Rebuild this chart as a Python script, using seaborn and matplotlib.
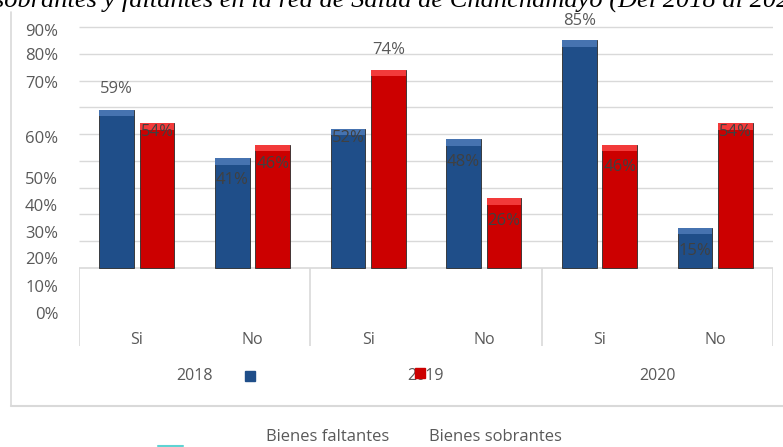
import numpy as np
import pandas as pd
import seaborn as sns
import matplotlib
matplotlib.use("Agg")
import matplotlib.pyplot as plt
from matplotlib.lines import Line2D
from matplotlib.patches import Patch, Rectangle
import matplotlib.transforms as mtransforms

# datos
years = ["2018", "2019", "2020"]
respuestas = ["Si", "No"]
series = ["Bienes faltantes", "Bienes sobrantes"]
faltantes = [59, 41, 52, 48, 85, 15]
sobrantes = [54, 46, 74, 26, 46, 54]
ytick_labels = ["90%", "80%", "70%", "60%", "50%", "40%", "30%", "20%", "10%", "0%"]
titulo = "sobrantes y faltantes en la red de Salud de Chanchamayo (Del 2018 al 2020)"

grupos = [f"{y} {r}" for y in years for r in respuestas]
df = pd.DataFrame({
    "grupo": grupos * 2,
    "serie": [series[0]] * len(grupos) + [series[1]] * len(grupos),
    "valor": faltantes + sobrantes,
})

AZUL = "#1f4e89"
ROJO = "#cc0000"
GRIS = "#d9d9d9"
TXT = "#595959"

sns.set_theme(style="white")
plt.rcParams["font.family"] = ["Open Sans", "DejaVu Sans"]

W, H = 783, 447
fig = plt.figure(figsize=(W / 100, H / 100), dpi=100)
# ejes: x de 79 a 773 px, y de 12 a 346 px
ax = fig.add_axes([79 / W, 1 - 346 / H, (773 - 79) / W, (346 - 12) / H])

k = 241 / 90  # px por punto porcentual
y_bot = -(346 - 268) / k
y_top = (268 - 12) / k

sns.barplot(data=df, x="grupo", y="valor", hue="serie", order=grupos,
            hue_order=series, palette=[AZUL, ROJO], saturation=1, width=0.7,
            gap=0.14, edgecolor="#2a2a2a", linewidth=0.6, legend=False, ax=ax,
            zorder=3)

ax.set_xlim(-0.5, len(grupos) - 0.5)
ax.set_ylim(y_bot, y_top)
for s in ax.spines.values():
    s.set_visible(False)

# lineas de cuadricula y caja de categorias
ax.hlines(np.arange(10, 100, 10), -0.5, len(grupos) - 0.5, color=GRIS, lw=1, zorder=1)
ax.hlines(0, -0.5, len(grupos) - 0.5, color=GRIS, lw=1.2, zorder=1)
ax.vlines(np.arange(-0.5, len(grupos), 2), y_bot, 0, color=GRIS, lw=1.2, zorder=1)

# etiquetas del eje y (desplazadas como en la imagen original)
ytick_px = [30, 54, 82, 137, 178, 205, 232, 258, 286, 313]
ax.set_yticks([(268 - p) / k for p in ytick_px])
ax.set_yticklabels(ytick_labels, color=TXT, fontsize=12)
ax.tick_params(axis="y", length=0, pad=15)

ax.set_xticks(range(len(grupos)))
ax.set_xticklabels([r for y in years for r in respuestas], color=TXT, fontsize=11.5)
ax.tick_params(axis="x", length=0, pad=-10)
ax.set_xlabel("")
ax.set_ylabel("")

trans = mtransforms.blended_transform_factory(ax.transData, ax.transAxes)
for i, y in enumerate(years):
    ax.text(2 * i + 0.5, -(376 - 346) / 334, y, transform=trans, ha="center",
            va="center", color=TXT, fontsize=11.5)

# bisel superior de las barras
for cont, claro in zip(ax.containers, ["#4673b0", "#f23a3a"]):
    for p in cont:
        ax.add_patch(Rectangle((p.get_x(), p.get_height() - 2.4), p.get_width(), 2.4,
                               facecolor=claro, edgecolor="none", zorder=4))

# etiquetas de valores
offsets = [[21, -22, -9, -23, 19, -23], [-9, -19, 20, -23, -22, -9]]
for cont, offs in zip(ax.containers, offsets):
    for p, off in zip(cont, offs):
        h = p.get_height()
        ax.annotate(f"{h:.0f}%", (p.get_x() + p.get_width() / 2, h),
                    xytext=(0, off), textcoords="offset pixels", ha="center",
                    va="center", fontsize=12,
                    color=TXT if off > 0 else "#404040", zorder=5)

# titulo cortado arriba
fig.text(-6 / W, 1 - 7 / H, titulo, ha="left", va="baseline", fontsize=19,
         family="Liberation Serif", style="italic", color="black")

# borde exterior del grafico
fig.add_artist(Line2D([11 / W, 11 / W], [1 - 12 / H, 1 - 406 / H],
                      transform=fig.transFigure, color=GRIS, lw=1.2))
fig.add_artist(Line2D([11 / W, 1], [1 - 406 / H, 1 - 406 / H],
                      transform=fig.transFigure, color=GRIS, lw=1.5))

# leyenda (marcadores desplazados)
fig.legend(handles=[Patch(visible=False), Patch(visible=False)], labels=series,
           loc="center", bbox_to_anchor=(414 / W, 1 - 437 / H), ncol=2,
           handlelength=0, handletextpad=0, columnspacing=2.4, frameon=False,
           fontsize=12, labelcolor=TXT)
fig.add_artist(Line2D([250 / W], [1 - 376 / H], marker="s", markersize=7,
                      color=AZUL, transform=fig.transFigure))
fig.add_artist(Line2D([420 / W], [1 - 373 / H], marker="s", markersize=7,
                      color=ROJO, transform=fig.transFigure))
fig.add_artist(Line2D([158 / W, 183 / W], [1 - 446 / H, 1 - 446 / H],
                      transform=fig.transFigure, color="#5fd3d3", lw=1.5))

fig.savefig("out.png", dpi=100)
